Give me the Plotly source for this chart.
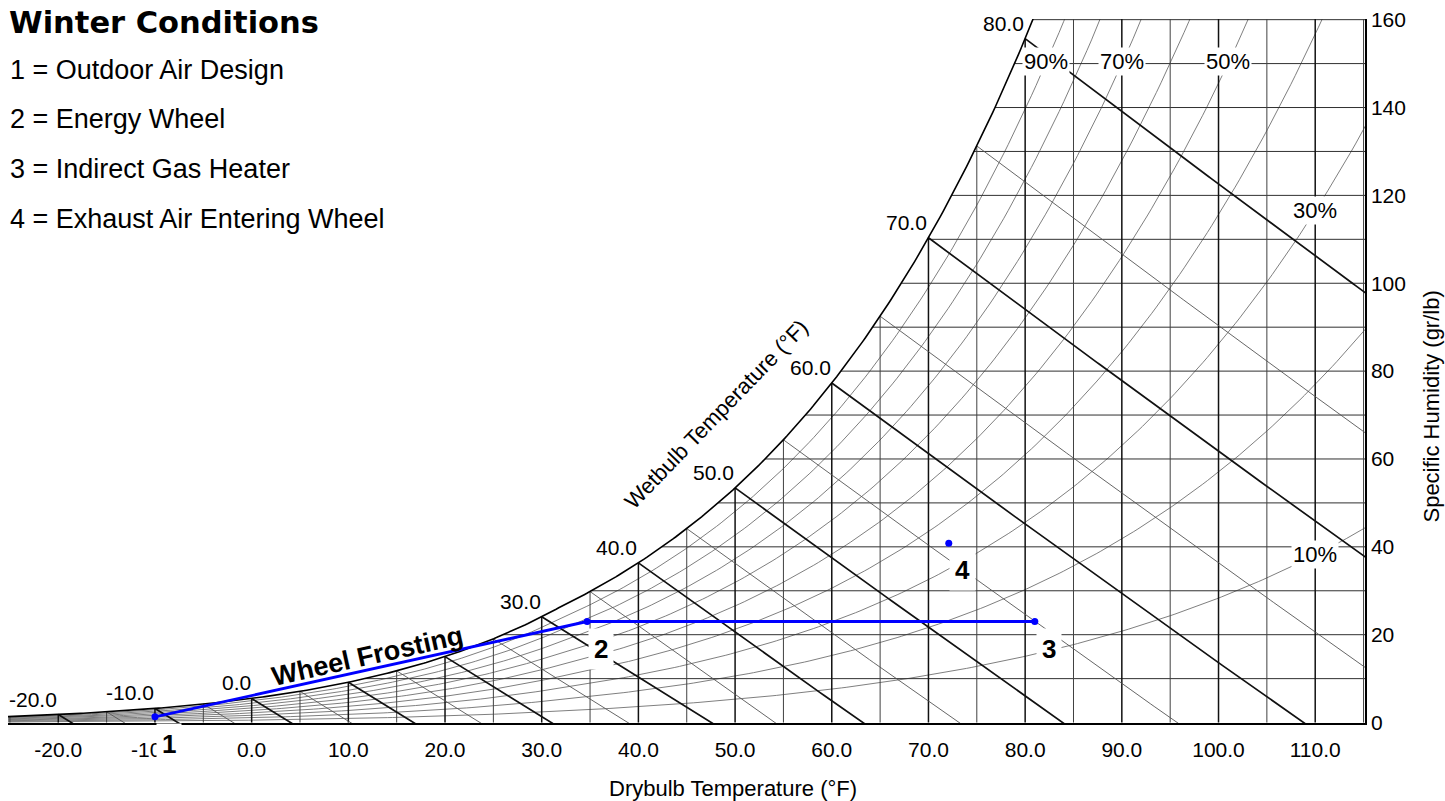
import numpy as np
import plotly.graph_objects as go

# ---------------- data ----------------
title_text = "Winter Conditions"
legend_lines = ["1 = Outdoor Air Design", "2 = Energy Wheel",
                "3 = Indirect Gas Heater", "4 = Exhaust Air Entering Wheel"]

point_labels = ["1", "2", "3", "4"]
point_db = [-10.0, 34.7, 81.0, 72.1]      # drybulb, °F
point_w = [1.3, 23.0, 23.0, 40.8]         # specific humidity, gr/lb
process_path = [0, 1, 2]                  # points joined by the process line

x_ticks = list(range(-20, 111, 10))
y_ticks = list(range(0, 161, 20))
drybulb_grid = list(range(-25, 116, 5))
humidity_grid = list(range(10, 161, 10))
rh_curves = [0.1, 0.2, 0.3, 0.4, 0.5, 0.6, 0.7, 0.8, 0.9]
rh_label_at_w150 = [0.9, 0.7, 0.5]
rh_label_at_t110 = [0.3, 0.1]
wetbulb_grid = list(range(-20, 81, 5))
wetbulb_labels = [-20, -10, 0, 30, 40, 50, 60, 70, 80]

X_RANGE = [-25.2, 115.15]
Y_RANGE = [-0.1, 160.15]
P_ATM = 14.696


# ---------------- psychrometrics (ASHRAE, IP units) ----------------
def pws(T):
    T = np.asarray(T, float)
    TR = T + 459.67
    ice = (-1.0214165e4 / TR - 4.8932428 - 5.3765794e-3 * TR + 1.9202377e-7 * TR ** 2
           + 3.5575832e-10 * TR ** 3 - 9.0344688e-14 * TR ** 4 + 4.1635019 * np.log(TR))
    water = (-1.0440397e4 / TR - 1.1294650e1 - 2.7022355e-2 * TR + 1.2890360e-5 * TR ** 2
             - 2.4780681e-9 * TR ** 3 + 6.5459673 * np.log(TR))
    return np.exp(np.where(T < 32, ice, water))


def w_from_pw(pw):
    return 0.621945 * pw / (P_ATM - pw) * 7000.0


def w_sat(T):
    return w_from_pw(pws(T))


def w_rh(T, rh):
    return w_from_pw(rh * pws(T))


def w_wetbulb(T, twb):
    T = np.asarray(T, float)
    wsw = float(w_sat(twb)) / 7000.0
    if twb >= 32:
        W = ((1093 - 0.556 * twb) * wsw - 0.240 * (T - twb)) / (1093 + 0.444 * T - twb)
    else:
        W = ((1220 - 0.04 * twb) * wsw - 0.240 * (T - twb)) / (1220 + 0.444 * T - 0.48 * twb)
    return W * 7000.0


T_TAB = np.linspace(-30, 125, 3101)
WS_TAB = w_sat(T_TAB)


def dewpoint(w):
    return float(np.interp(w, WS_TAB, T_TAB))


def join(segs):
    xs, ys = [], []
    for sx, sy in segs:
        xs += list(sx) + [None]
        ys += list(sy) + [None]
    return xs, ys


fig = go.Figure()


def add_lines(segs, color, width):
    xs, ys = join(segs)
    fig.add_trace(go.Scatter(x=xs, y=ys, mode="lines", hoverinfo="skip",
                             line=dict(color=color, width=width), showlegend=False))


# relative humidity curves
rh_segs = []
for rh in rh_curves:
    t = np.linspace(X_RANGE[0], 118, 300)
    rh_segs.append((t, w_rh(t, rh)))
add_lines(rh_segs, "#707070", 0.9)

# horizontal humidity lines
h_segs = [([dewpoint(w), 118], [w, w]) for w in humidity_grid]
add_lines(h_segs, "#303030", 1.0)

# vertical drybulb lines
v5 = [([t, t], [0, min(float(w_sat(t)), 160.15)]) for t in drybulb_grid if t % 10 != 0]
v10 = [([t, t], [0, min(float(w_sat(t)), 160.15)]) for t in drybulb_grid if t % 10 == 0]
add_lines(v5, "#404040", 1.0)
add_lines(v10, "#111111", 1.5)

# wetbulb lines
wb5, wb10 = [], []
for twb in wetbulb_grid:
    t = np.linspace(twb, 125, 200)
    w = w_wetbulb(t, twb)
    (wb10 if twb % 10 == 0 else wb5).append((t, w))
add_lines(wb5, "#555555", 0.9)
add_lines(wb10, "#111111", 1.7)

# saturation curve
ts = np.linspace(X_RANGE[0], 82, 400)
add_lines([(ts, w_sat(ts))], "#000000", 1.6)

# process line and state points
fig.add_trace(go.Scatter(x=[point_db[i] for i in process_path],
                         y=[point_w[i] for i in process_path],
                         mode="lines+markers", hoverinfo="skip", showlegend=False,
                         line=dict(color="#0000FF", width=2.8),
                         marker=dict(color="#0000FF", size=7)))
fig.add_trace(go.Scatter(x=[point_db[3]], y=[point_w[3]], mode="markers",
                         hoverinfo="skip", showlegend=False,
                         marker=dict(color="#0000FF", size=7)))

# ---------------- layout geometry (page pixels) ----------------
FIG_W, FIG_H = 1445, 801
PLOT_L, PLOT_R, PLOT_T, PLOT_B = 8, 1365, 15, 723.5
L, T_ = PLOT_L, PLOT_T
R = FIG_W - PLOT_R
B = FIG_H - PLOT_B
PW, PH = PLOT_R - PLOT_L, PLOT_B - PLOT_T


def px(xp):
    return (xp - PLOT_L) / PW


def py(yp):
    return (PLOT_B - yp) / PH


ann = []
FONT = "Liberation Sans, Arial, sans-serif"

ann.append(dict(text="<b>" + title_text + "</b>", xref="paper", yref="paper",
                x=px(7), y=py(19), xanchor="left", yanchor="middle", showarrow=False,
                font=dict(family="DejaVu Sans, sans-serif", size=30.5, color="black")))
for i, line in enumerate(legend_lines):
    ann.append(dict(text=line, xref="paper", yref="paper", x=px(8), y=py(66 + 50 * i),
                    xanchor="left", yanchor="middle", showarrow=False,
                    font=dict(family=FONT, size=27, color="black")))

# wetbulb labels at saturation
for twb in wetbulb_labels:
    ann.append(dict(text=f"{twb:.1f}", x=twb, y=float(w_sat(twb)), xanchor="right",
                    yanchor="bottom", xshift=1, yshift=2, showarrow=False,
                    font=dict(family=FONT, size=21, color="black")))

# RH labels
for rh in rh_label_at_w150:
    t = float(np.interp(150, w_rh(T_TAB, rh), T_TAB))
    ann.append(dict(text=f"{int(round(rh * 100))}%", x=t, y=150, showarrow=False,
                    xanchor="center", yanchor="middle", yshift=2,
                    bgcolor="white", borderpad=1,
                    font=dict(family=FONT, size=22, color="black")))
for rh in rh_label_at_t110:
    ann.append(dict(text=f"{int(round(rh * 100))}%", x=110, y=float(w_rh(110, rh)),
                    xanchor="center", yanchor="middle",
                    showarrow=False, bgcolor="white", borderpad=1,
                    font=dict(family=FONT, size=22, color="black")))

# point labels
for lab, xv, yv in zip(point_labels, point_db, point_w):
    ann.append(dict(text="<b>" + lab + "</b>", x=xv, y=yv, xshift=14, yshift=-27,
                    xanchor="center", yanchor="middle",
                    showarrow=False, bgcolor="white", borderpad=5,
                    font=dict(family=FONT, size=26, color="black")))

# Wheel Frosting label along the 1-2 line
a, b = process_path[0], process_path[1]
frac = (12.0 - point_db[a]) / (point_db[b] - point_db[a])
ann.append(dict(text="<b>Wheel Frosting</b>", x=12.0,
                y=point_w[a] + frac * (point_w[b] - point_w[a]),
                xanchor="center", yanchor="middle",
                xshift=0, yshift=14, textangle=-12.5, showarrow=False,
                font=dict(family=FONT, size=27, color="black")))

# axis titles
ann.append(dict(text="Wetbulb Temperature (°F)", xref="paper", yref="paper",
                x=px(716), y=py(413), textangle=-46, showarrow=False,
                xanchor="center", yanchor="middle",
                font=dict(family=FONT, size=22, color="black")))
ann.append(dict(text="Drybulb Temperature (°F)", xref="paper", yref="paper",
                x=px(733), y=py(789), showarrow=False,
                xanchor="center", yanchor="middle",
                font=dict(family=FONT, size=22, color="black")))
ann.append(dict(text="Specific Humidity (gr/lb)", xref="paper", yref="paper",
                x=px(1432), y=py(405), textangle=-90, showarrow=False,
                xanchor="center", yanchor="middle",
                font=dict(family=FONT, size=22, color="black")))

fig.update_layout(
    width=FIG_W, height=FIG_H,
    margin=dict(l=L, r=R, t=T_, b=B),
    paper_bgcolor="white", plot_bgcolor="white",
    annotations=ann,
    xaxis=dict(range=X_RANGE, tickvals=x_ticks, ticktext=[f"{v:.1f}" for v in x_ticks],
               showgrid=False, zeroline=False, showline=True, linecolor="black",
               linewidth=1.5, ticks="", ticklabelstandoff=7, ticklabeloverflow="allow",
               tickfont=dict(family=FONT, size=21, color="black")),
    yaxis=dict(range=Y_RANGE, side="right", tickvals=y_ticks,
               showgrid=False, zeroline=False, showline=True, linecolor="black",
               linewidth=1.5, ticks="", ticklabelstandoff=0, ticklabeloverflow="allow",
               tickfont=dict(family=FONT, size=21, color="black")),
)

fig.write_html("out.html", config={"displayModeBar": False},
               post_script="document.body.style.margin='0';document.body.style.overflow='hidden';")
